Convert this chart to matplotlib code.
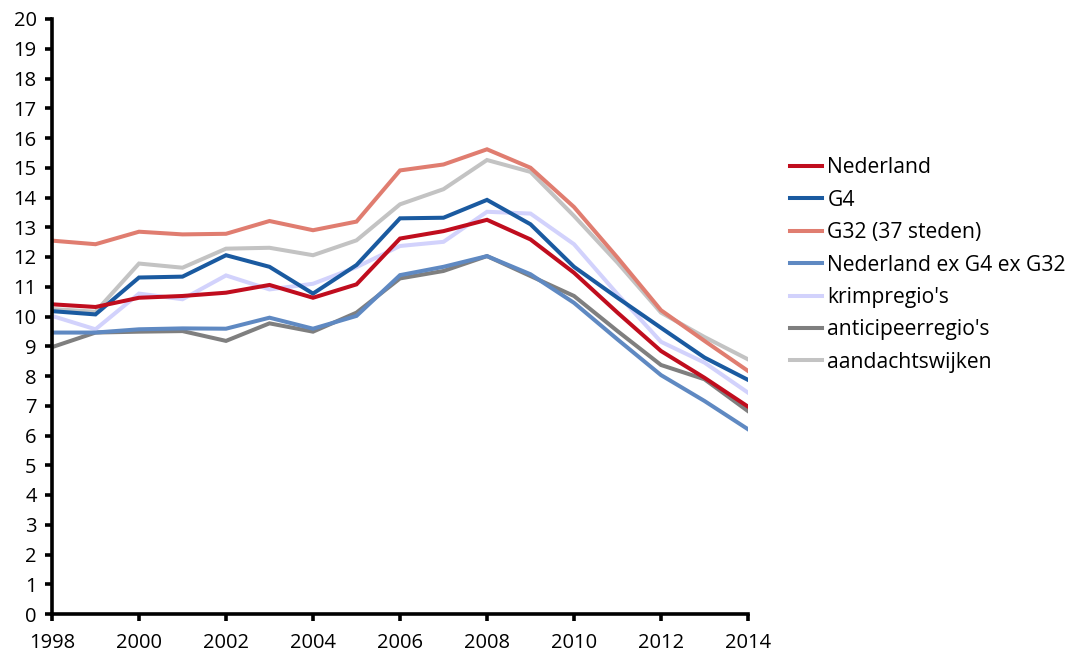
import matplotlib.pyplot as plt

plt.rcParams['font.family'] = ['Open Sans', 'DejaVu Sans']

jaren = list(range(1998, 2015))

nederland = [10.41, 10.32, 10.63, 10.69, 10.80, 11.06, 10.63, 11.08, 12.62, 12.87, 13.25, 12.59, 11.47, 10.13, 8.84, 7.94, 6.97]
g4 = [10.18, 10.07, 11.31, 11.34, 12.06, 11.67, 10.77, 11.73, 13.30, 13.32, 13.92, 13.10, 11.67, 10.63, 9.62, 8.62, 7.87]
g32 = [12.55, 12.43, 12.85, 12.76, 12.78, 13.21, 12.90, 13.19, 14.91, 15.11, 15.62, 15.00, 13.68, 11.98, 10.21, 9.18, 8.17]
ned_ex = [9.46, 9.46, 9.57, 9.60, 9.59, 9.96, 9.59, 10.02, 11.39, 11.67, 12.03, 11.42, 10.46, 9.23, 8.03, 7.16, 6.21]
krimpregio = [10.02, 9.57, 10.77, 10.58, 11.38, 10.91, 11.10, 11.66, 12.37, 12.51, 13.52, 13.46, 12.43, 10.75, 9.15, 8.45, 7.44]
anticipeer = [8.97, 9.46, 9.49, 9.51, 9.18, 9.77, 9.49, 10.13, 11.28, 11.53, 12.03, 11.36, 10.69, 9.51, 8.37, 7.89, 6.82]
aandacht = [10.25, 10.16, 11.78, 11.64, 12.28, 12.31, 12.06, 12.56, 13.77, 14.28, 15.26, 14.86, 13.38, 11.81, 10.13, 9.31, 8.56]

reeksen = [
    ("Nederland", nederland, "#c00d1e"),
    ("G4", g4, "#1a5aa0"),
    ("G32 (37 steden)", g32, "#e07d70"),
    ("Nederland ex G4 ex G32", ned_ex, "#5f89c2"),
    ("krimpregio's", krimpregio, "#d2d2fc"),
    ("anticipeerregio's", anticipeer, "#7f7f7f"),
    ("aandachtswijken", aandacht, "#c3c3c3"),
]

fig = plt.figure(figsize=(10.74, 6.59), dpi=100)
ax = fig.add_axes([52/1074, 1-614/659, (748-52)/1074, (614-19)/659])

# achterste reeks eerst, zodat Nederland bovenop ligt
for naam, waarden, kleur in reversed(reeksen):
    ax.plot(jaren, waarden, color=kleur, lw=2.9, label=naam, solid_joinstyle='miter')

ax.set_xlim(1998, 2014)
ax.set_ylim(0, 20)
ax.set_xticks(range(1998, 2015, 2))
ax.set_yticks(range(0, 21))
ax.spines['top'].set_visible(False)
ax.spines['right'].set_visible(False)
for s in ('left', 'bottom'):
    ax.spines[s].set_linewidth(2.6)
ax.tick_params(axis='both', direction='out', length=5, width=2.6, labelsize=14.5)
ax.tick_params(axis='x', pad=9)
ax.tick_params(axis='y', pad=6)

handles, labels = ax.get_legend_handles_labels()
fig.legend(handles[::-1], labels[::-1], loc='upper left',
           bbox_to_anchor=(782/1074, 1-149/659), frameon=False,
           fontsize=15.2, handlelength=1.5, handletextpad=0.25,
           labelspacing=0.54, borderaxespad=0)

fig.savefig("out.png", dpi=100)
